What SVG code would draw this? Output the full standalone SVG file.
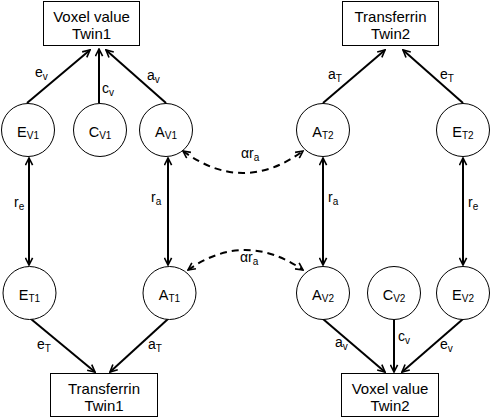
<svg xmlns="http://www.w3.org/2000/svg" width="490" height="418" viewBox="0 0 490 418">
<style>
.box{fill:#fff;stroke:#000;stroke-width:1}
.node{fill:#fff;stroke:#000;stroke-width:1}
.bt{font-family:"Liberation Sans",Arial,sans-serif;font-size:15px;text-anchor:middle;fill:#000}
.nt{font-family:"Liberation Sans",Arial,sans-serif;font-size:14.5px;text-anchor:middle;fill:#000}
.lt{font-family:"Liberation Sans",Arial,sans-serif;font-size:14px;fill:#000}
.sub{font-size:10px}
.edge{fill:none;stroke:#000;stroke-width:2}
.dash{fill:none;stroke:#000;stroke-width:2;stroke-dasharray:7,5}
</style>
<defs>
<marker id="ah" viewBox="0 0 10 10" refX="9" refY="5" markerWidth="9" markerHeight="9" markerUnits="userSpaceOnUse" orient="auto-start-reverse">
<path d="M1,1 L9,5 L1,9" fill="none" stroke="#000" stroke-width="1.8"/>
</marker>
</defs>

<g id="connectors">
<line class="edge" x1="27" y1="103" x2="90" y2="50" marker-end="url(#ah)"/>
<line class="edge" x1="99" y1="103" x2="99" y2="49" marker-end="url(#ah)"/>
<line class="edge" x1="166" y1="103" x2="106" y2="50" marker-end="url(#ah)"/>
<line class="edge" x1="323" y1="103" x2="385" y2="50" marker-end="url(#ah)"/>
<line class="edge" x1="463" y1="103" x2="403" y2="50" marker-end="url(#ah)"/>
<line class="edge" x1="31" y1="319" x2="95" y2="372" marker-end="url(#ah)"/>
<line class="edge" x1="168" y1="319" x2="110" y2="372" marker-end="url(#ah)"/>
<line class="edge" x1="323" y1="319" x2="385" y2="372" marker-end="url(#ah)"/>
<line class="edge" x1="394" y1="320" x2="394" y2="372" marker-end="url(#ah)"/>
<line class="edge" x1="463" y1="319" x2="402" y2="372" marker-end="url(#ah)"/>
<line class="edge" x1="29" y1="158" x2="29" y2="265" marker-start="url(#ah)" marker-end="url(#ah)"/>
<line class="edge" x1="168" y1="158" x2="168" y2="265" marker-start="url(#ah)" marker-end="url(#ah)"/>
<line class="edge" x1="323" y1="158" x2="323" y2="265" marker-start="url(#ah)" marker-end="url(#ah)"/>
<line class="edge" x1="463" y1="158" x2="463" y2="265" marker-start="url(#ah)" marker-end="url(#ah)"/>
<path class="dash" d="M183,151 Q243,195 303,151" marker-start="url(#ah)" marker-end="url(#ah)"/>
<path class="dash" d="M188,270 Q245,230 303,270" marker-start="url(#ah)" marker-end="url(#ah)"/>
<text class="lt" x="35" y="77">e<tspan class="sub" dy="3">v</tspan></text>
<text class="lt" x="102" y="93">c<tspan class="sub" dy="3">v</tspan></text>
<text class="lt" x="147" y="80">a<tspan class="sub" dy="3">v</tspan></text>
<text class="lt" x="328" y="79">a<tspan class="sub" dy="3">T</tspan></text>
<text class="lt" x="440" y="79">e<tspan class="sub" dy="3">T</tspan></text>
<text class="lt" x="14" y="207">r<tspan class="sub" dy="3">e</tspan></text>
<text class="lt" x="151" y="202">r<tspan class="sub" dy="3">a</tspan></text>
<text class="lt" x="328" y="202">r<tspan class="sub" dy="3">a</tspan></text>
<text class="lt" x="468" y="207">r<tspan class="sub" dy="3">e</tspan></text>
<text class="lt" x="37" y="349">e<tspan class="sub" dy="3">T</tspan></text>
<text class="lt" x="148" y="349">a<tspan class="sub" dy="3">T</tspan></text>
<text class="lt" x="335" y="347">a<tspan class="sub" dy="3">v</tspan></text>
<text class="lt" x="398" y="341">c<tspan class="sub" dy="3">v</tspan></text>
<text class="lt" x="440" y="349">e<tspan class="sub" dy="3">v</tspan></text>
<text class="lt" x="241" y="158">αr<tspan class="sub" dy="3">a</tspan></text>
<text class="lt" x="240" y="262">αr<tspan class="sub" dy="3">a</tspan></text>
</g>

<g id="voxel_twin1">
<rect class="box" x="43.5" y="1.5" width="96" height="44"/>
<text class="bt" x="91.5" y="21.5">Voxel value</text>
<text class="bt" x="91.5" y="38.5">Twin1</text>
</g>
<g id="transferrin_twin2">
<rect class="box" x="342.5" y="1.5" width="96" height="44"/>
<text class="bt" x="390.5" y="21.5">Transferrin</text>
<text class="bt" x="390.5" y="38.5">Twin2</text>
</g>
<g id="transferrin_twin1">
<rect class="box" x="50.5" y="373.5" width="107" height="43"/>
<text class="bt" x="104" y="393.5">Transferrin</text>
<text class="bt" x="104" y="410.5">Twin1</text>
</g>
<g id="voxel_twin2">
<rect class="box" x="341.5" y="373.5" width="97" height="43"/>
<text class="bt" x="390" y="393.5">Voxel value</text>
<text class="bt" x="390" y="410.5">Twin2</text>
</g>

<g id="EV1"><circle class="node" cx="28" cy="130" r="26.5"/><text class="nt" x="28" y="137">E<tspan class="sub" dy="2">V1</tspan></text></g>
<g id="CV1"><circle class="node" cx="100" cy="130" r="26.5"/><text class="nt" x="100" y="137">C<tspan class="sub" dy="2">V1</tspan></text></g>
<g id="AV1"><circle class="node" cx="166" cy="130" r="26.5"/><text class="nt" x="166" y="137">A<tspan class="sub" dy="2">V1</tspan></text></g>
<g id="AT2"><circle class="node" cx="323" cy="130" r="26.5"/><text class="nt" x="323" y="137">A<tspan class="sub" dy="2">T2</tspan></text></g>
<g id="ET2"><circle class="node" cx="463" cy="130" r="26.5"/><text class="nt" x="463" y="137">E<tspan class="sub" dy="2">T2</tspan></text></g>
<g id="ET1"><circle class="node" cx="29.5" cy="293" r="26.5"/><text class="nt" x="29.5" y="300">E<tspan class="sub" dy="2">T1</tspan></text></g>
<g id="AT1"><circle class="node" cx="169.5" cy="293" r="26.5"/><text class="nt" x="169.5" y="300">A<tspan class="sub" dy="2">T1</tspan></text></g>
<g id="AV2"><circle class="node" cx="323" cy="293" r="26.5"/><text class="nt" x="323" y="300">A<tspan class="sub" dy="2">V2</tspan></text></g>
<g id="CV2"><circle class="node" cx="394" cy="293" r="26.5"/><text class="nt" x="394" y="300">C<tspan class="sub" dy="2">V2</tspan></text></g>
<g id="EV2"><circle class="node" cx="463" cy="293" r="26.5"/><text class="nt" x="463" y="300">E<tspan class="sub" dy="2">V2</tspan></text></g>
</svg>
